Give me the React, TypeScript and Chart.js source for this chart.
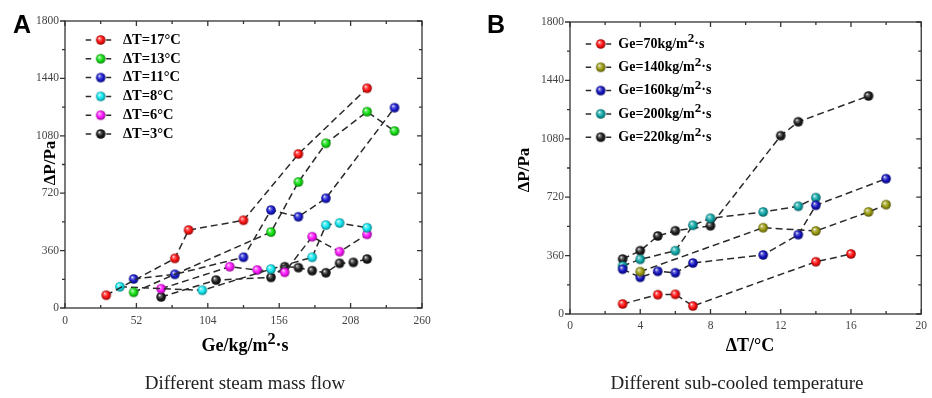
import React, { useEffect, useRef } from 'react';
import { Chart, registerables } from 'chart.js';

Chart.register(...registerables);

// ---------- Panel A: ΔP vs Ge (different sub-cooled ΔT) ----------
const geTicksA = [0, 52, 104, 156, 208, 260];
const dpTicks = [0, 360, 720, 1080, 1440, 1800];

const dT17Ge = [30, 80, 90, 130, 170, 220];
const dT17Dp = [80, 311, 489, 550, 966, 1378];
const dT13Ge = [50, 150, 170, 190, 220, 240];
const dT13Dp = [98, 476, 790, 1033, 1231, 1110];
const dT11Ge = [50, 80, 130, 150, 170, 190, 240];
const dT11Dp = [182, 211, 318, 614, 572, 688, 1256];
const dT8Ge = [40, 100, 150, 180, 190, 200, 220];
const dT8Dp = [133, 111, 244, 318, 520, 533, 503];
const dT6Ge = [70, 120, 140, 160, 180, 200, 220];
const dT6Dp = [121, 259, 238, 224, 447, 353, 462];
const dT3Ge = [70, 110, 150, 160, 170, 180, 190, 200, 210, 220];
const dT3Dp = [69, 175, 192, 259, 253, 234, 221, 280, 286, 307];

// ---------- Panel B: ΔP vs ΔT (different Ge) ----------
const dTTicksB = [0, 4, 8, 12, 16, 20];

const ge70dT = [3, 5, 6, 7, 14, 16];
const ge70Dp = [62, 119, 121, 49, 322, 370];
const ge140dT = [4, 11, 14, 17, 18];
const ge140Dp = [261, 532, 512, 629, 674];
const ge160dT = [3, 4, 5, 6, 7, 11, 13, 14, 18];
const ge160Dp = [276, 226, 263, 254, 314, 364, 489, 670, 834];
const ge200dT = [3, 4, 6, 7, 8, 11, 13, 14];
const ge200Dp = [296, 337, 390, 547, 590, 629, 664, 717];
const ge220dT = [3, 4, 5, 6, 8, 12, 13, 17];
const ge220Dp = [339, 390, 481, 513, 544, 1099, 1185, 1344];

const SERIF = "'Liberation Serif', 'Times New Roman', serif";

function shade(hex: string, f: number) {
  const n = parseInt(hex.slice(1), 16);
  let r = (n >> 16) & 255, g = (n >> 8) & 255, b = n & 255;
  if (f >= 0) {
    r = Math.round(r + (255 - r) * f); g = Math.round(g + (255 - g) * f); b = Math.round(b + (255 - b) * f);
  } else {
    r = Math.round(r * (1 + f)); g = Math.round(g * (1 + f)); b = Math.round(b * (1 + f));
  }
  return `rgb(${r},${g},${b})`;
}

function sphere(hex: string, rad = 4.8) {
  const size = Math.ceil(rad * 2) + 2;
  const c = document.createElement('canvas');
  c.width = size; c.height = size;
  const ctx = c.getContext('2d')!;
  const cx = size / 2, cy = size / 2;
  const g = ctx.createRadialGradient(cx - rad * 0.35, cy - rad * 0.4, rad * 0.05, cx, cy, rad);
  g.addColorStop(0, '#ffffff');
  g.addColorStop(0.22, shade(hex, 0.4));
  g.addColorStop(0.6, hex);
  g.addColorStop(1, shade(hex, -0.45));
  ctx.fillStyle = g;
  ctx.beginPath(); ctx.arc(cx, cy, rad, 0, Math.PI * 2); ctx.fill();
  return c;
}

function zip(xs: number[], ys: number[]) {
  return xs.map((x, i) => ({ x, y: ys[i] }));
}

const framePlugin = {
  id: 'frameTicks',
  beforeDatasetsDraw(chart: any) {
    const { ctx, chartArea: a, scales } = chart;
    const x = scales.x, y = scales.y;
    const marks = (vals: number[]) => {
      const out: [number, number][] = [];
      vals.forEach((v, i) => {
        out.push([v, 5]);
        if (i < vals.length - 1) out.push([(v + vals[i + 1]) / 2, 3]);
      });
      return out;
    };
    ctx.save();
    ctx.strokeStyle = '#333';
    ctx.lineWidth = 1.3;
    ctx.strokeRect(a.left, a.top, a.right - a.left, a.bottom - a.top);
    ctx.beginPath();
    marks(x.ticks.map((t: any) => t.value)).forEach(([v, l]) => {
      const p = x.getPixelForValue(v);
      ctx.moveTo(p, a.bottom); ctx.lineTo(p, a.bottom - l);
      ctx.moveTo(p, a.top); ctx.lineTo(p, a.top + l);
    });
    marks(y.ticks.map((t: any) => t.value)).forEach(([v, l]) => {
      const p = y.getPixelForValue(v);
      ctx.moveTo(a.left, p); ctx.lineTo(a.left - l, p);
      ctx.moveTo(a.right, p); ctx.lineTo(a.right - l, p);
    });
    ctx.stroke();
    ctx.restore();
  },
};

const legendPlugin = {
  id: 'boxLegend',
  afterDraw(chart: any, _args: any, opts: any) {
    const { ctx } = chart;
    const { mx, y0, dy, tx, size } = opts;
    chart.data.datasets.forEach((ds: any, i: number) => {
      const y = y0 + i * dy;
      ctx.save();
      ctx.strokeStyle = '#2a2a2a';
      ctx.lineWidth = 1.5;
      ctx.setLineDash([]);
      ctx.beginPath();
      ctx.moveTo(mx - 15, y); ctx.lineTo(mx - 9.5, y);
      ctx.moveTo(mx + 5.5, y); ctx.lineTo(mx + 10.5, y);
      ctx.stroke();
      const img = ds.pointStyle as HTMLCanvasElement;
      ctx.drawImage(img, mx - img.width / 2, y - img.height / 2);
      ctx.fillStyle = '#000';
      ctx.textBaseline = 'middle';
      ctx.textAlign = 'left';
      const parts = String(ds.label).split('²');
      ctx.font = `bold ${size}px ${SERIF}`;
      let cx = tx;
      ctx.fillText(parts[0], cx, y);
      cx += ctx.measureText(parts[0]).width;
      if (parts.length > 1) {
        ctx.font = `bold ${size - 1}px ${SERIF}`;
        ctx.fillText('2', cx, y - 5);
        cx += ctx.measureText('2').width;
        ctx.font = `bold ${size}px ${SERIF}`;
        ctx.fillText(parts[1], cx, y);
      }
      ctx.restore();
    });
  },
};

function makeDs(label: string, color: string, xs: number[], ys: number[]) {
  return {
    label,
    data: zip(xs, ys),
    borderColor: '#2a2a2a',
    borderWidth: 1.5,
    borderDash: [7, 4],
    pointStyle: sphere(color),
    pointRadius: 5,
    pointHoverRadius: 5,
    fill: false,
    tension: 0,
  };
}

function buildOptions(xTicks: number[], yTicks: number[], pad: any, xPad: number, legend: any) {
  return {
    responsive: false,
    animation: false as const,
    events: [],
    layout: { padding: pad },
    plugins: {
      legend: { display: false },
      tooltip: { enabled: false },
      boxLegend: legend,
    },
    scales: {
      x: {
        type: 'linear' as const,
        min: xTicks[0],
        max: xTicks[xTicks.length - 1],
        afterBuildTicks: (s: any) => { s.ticks = xTicks.map((v) => ({ value: v })); },
        afterFit: (s: any) => { s.height = 30; },
        grid: { display: false, drawTicks: false },
        border: { display: false },
        ticks: { font: { family: SERIF, size: 11.5 }, color: '#444', padding: xPad, maxRotation: 0, autoSkip: false,
          callback: (v: any) => String(v) },
      },
      y: {
        type: 'linear' as const,
        min: yTicks[0],
        max: yTicks[yTicks.length - 1],
        afterBuildTicks: (s: any) => { s.ticks = yTicks.map((v) => ({ value: v })); },
        afterFit: (s: any) => { s.width = 40; },
        grid: { display: false, drawTicks: false },
        border: { display: false },
        ticks: { font: { family: SERIF, size: 11.5 }, color: '#444', padding: 6, autoSkip: false,
          callback: (v: any) => String(v) },
      },
    },
  };
}

export default function App() {
  const refA = useRef<HTMLCanvasElement>(null);
  const refB = useRef<HTMLCanvasElement>(null);

  useEffect(() => {
    const chartA = new Chart(refA.current!, {
      type: 'line',
      data: {
        datasets: [
          makeDs('ΔT=17°C', '#ff1010', dT17Ge, dT17Dp),
          makeDs('ΔT=13°C', '#12e012', dT13Ge, dT13Dp),
          makeDs('ΔT=11°C', '#1a1ad0', dT11Ge, dT11Dp),
          makeDs('ΔT=8°C', '#10e6f0', dT8Ge, dT8Dp),
          makeDs('ΔT=6°C', '#ff14ff', dT6Ge, dT6Dp),
          makeDs('ΔT=3°C', '#1c1c1c', dT3Ge, dT3Dp),
        ],
      },
      options: buildOptions(geTicksA, dpTicks, { left: 25, right: 44, top: 21, bottom: 60 }, 6,
        { mx: 100.7, y0: 40, dy: 18.8, tx: 123, size: 14.5 }) as any,
      plugins: [framePlugin, legendPlugin],
    });
    const chartB = new Chart(refB.current!, {
      type: 'line',
      data: {
        datasets: [
          makeDs('Ge=70kg/m²·s', '#ff1010', ge70dT, ge70Dp),
          makeDs('Ge=140kg/m²·s', '#9a9a10', ge140dT, ge140Dp),
          makeDs('Ge=160kg/m²·s', '#1212c0', ge160dT, ge160Dp),
          makeDs('Ge=200kg/m²·s', '#10a8a8', ge200dT, ge200Dp),
          makeDs('Ge=220kg/m²·s', '#1c1c1c', ge220dT, ge220Dp),
        ],
      },
      options: buildOptions(dTTicksB, dpTicks, { left: 64, right: 5, top: 22, bottom: 54 }, 5,
        { mx: 134.7, y0: 44, dy: 23.3, tx: 152.3, size: 14 }) as any,
      plugins: [framePlugin, legendPlugin],
    });
    return () => { chartA.destroy(); chartB.destroy(); };
  }, []);

  const abs = (x: number, y: number, extra: React.CSSProperties = {}): React.CSSProperties => ({
    position: 'absolute', left: x, top: y, transform: 'translate(-50%, -50%)',
    whiteSpace: 'nowrap', lineHeight: 1, ...extra,
  });
  const titleFont: React.CSSProperties = { fontFamily: SERIF, fontWeight: 'bold', fontSize: 18, color: '#000' };
  const sup: React.CSSProperties = { fontSize: '0.9em', position: 'relative', top: '-0.42em' };
  const capFont: React.CSSProperties = { fontFamily: SERIF, fontSize: 19, color: '#222' };
  const letterFont: React.CSSProperties = { fontFamily: "'Liberation Sans', Arial, sans-serif", fontWeight: 'bold', fontSize: 25, color: '#000' };

  return (
    <div style={{ position: 'fixed', left: 0, top: 0, width: 932, height: 398, background: '#fff', overflow: 'hidden' }}>
      <canvas ref={refA} width={466} height={398} style={{ position: 'absolute', left: 0, top: 0, width: 466, height: 398 }} />
      <canvas ref={refB} width={466} height={398} style={{ position: 'absolute', left: 466, top: 0, width: 466, height: 398 }} />
      <div style={abs(22, 24, letterFont)}>A</div>
      <div style={abs(496, 24, letterFont)}>B</div>
      <div style={abs(49, 163, { ...titleFont, fontSize: 17, transform: 'translate(-50%, -50%) rotate(-90deg)' })}>ΔP/Pa</div>
      <div style={abs(523, 170, { ...titleFont, fontSize: 17, transform: 'translate(-50%, -50%) rotate(-90deg)' })}>ΔP/Pa</div>
      <div style={abs(245, 345, titleFont)}>Ge/kg/m<span style={sup}>2</span>·s</div>
      <div style={abs(750, 345, titleFont)}>ΔT/°C</div>
      <div style={abs(245, 382, capFont)}>Different steam mass flow</div>
      <div style={abs(737, 382, capFont)}>Different sub-cooled temperature</div>
    </div>
  );
}
